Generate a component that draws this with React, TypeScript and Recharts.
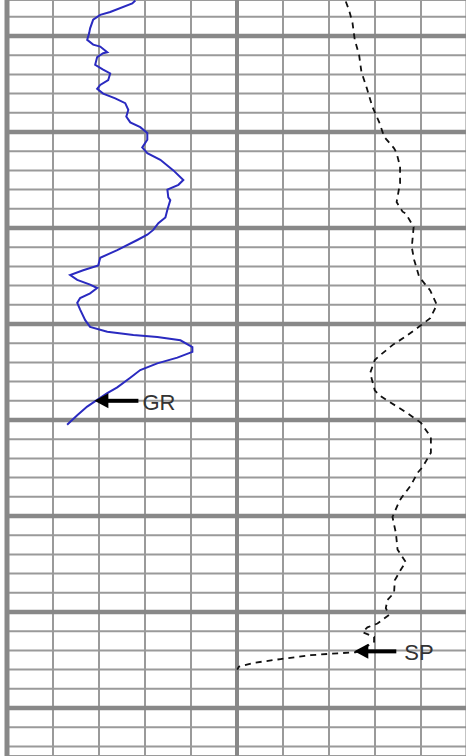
import { LineChart, Line, XAxis, YAxis, CartesianGrid, ReferenceLine, ReferenceDot } from 'recharts';

// depth (ft) vs gamma ray (API), left track
const GR_DEPTH = [
  4996.3, 4996.6, 4997.5, 4997.8, 4998.3, 4999.2, 4999.7, 5000.4, 5000.9, 5001.1, 5001.7, 5001.8,
  5002.2, 5003.0, 5003.5, 5003.9, 5004.6, 5005.1, 5005.5, 5006.0, 5006.5, 5007.0, 5007.7, 5008.4,
  5009.0, 5009.5, 5010.1, 5010.8, 5011.6, 5012.2, 5012.9, 5014.0, 5015.0, 5015.5, 5016.0, 5016.8,
  5017.1, 5018.1, 5018.9, 5019.5, 5020.2, 5020.7, 5021.25, 5022.3, 5023.1, 5023.9, 5024.4, 5024.9,
  5025.4, 5025.9, 5026.25, 5026.8, 5027.3, 5027.8, 5028.5, 5029.6, 5030.3, 5030.8, 5031.15, 5031.35,
  5031.7, 5032.4, 5032.9, 5033.5, 5034.1, 5034.8, 5035.6, 5036.6, 5037.2, 5037.9, 5038.6, 5039.5,
  5040.5,
];
const GR_VALUES = [
  83.7, 81.7, 67.3, 60.8, 56.2, 54.2, 53.6, 52.3, 56.2, 60.8, 65.4, 62.7,
  58.8, 57.5, 62.7, 67.3, 66.0, 60.8, 58.8, 62.7, 70.6, 77.1, 79.1, 77.8,
  80.4, 86.9, 91.5, 91.5, 88.2, 91.5, 100.0, 108.5, 115.0, 111.8, 104.6, 105.2,
  106.5, 104.6, 103.3, 98.7, 95.4, 91.5, 85.0, 71.9, 60.8, 59.5, 49.7, 41.2,
  45.8, 54.2, 58.8, 54.2, 47.7, 45.8, 47.7, 51.0, 54.2, 65.4, 82.4, 98.0,
  113.1, 120.9, 120.9, 111.1, 98.0, 86.9, 80.4, 71.9, 65.4, 58.8, 52.3, 45.8,
  39.2,
];

// depth (ft) vs spontaneous potential (mV), right track
const SP_DEPTH = [
  4996.4, 4997.3, 4998.6, 5000.4, 5002.0, 5003.75, 5005.4, 5007.4, 5008.96, 5010.5, 5011.7, 5012.2,
  5013.6, 5015.3, 5017.3, 5018.3, 5018.5, 5019.9, 5022.0, 5023.3, 5025.1, 5026.5, 5028.0, 5029.4,
  5030.4, 5031.4, 5032.2, 5033.2, 5033.75, 5035.1, 5036.9, 5037.4, 5038.2, 5039.3, 5040.3, 5041.8,
  5043.4, 5044.9, 5045.5, 5046.8, 5048.1, 5048.5, 5050.1, 5051.8, 5053.5, 5054.8, 5055.6, 5056.7,
  5058.0, 5058.75, 5059.6, 5060.3, 5060.8, 5061.2, 5061.6, 5062.1, 5062.6, 5063.1, 5063.75, 5064.2,
  5064.3, 5064.5, 5064.9, 5065.3, 5065.7, 5066.0,
];
const SP_VALUES = [
  -52.7, -51.3, -49.8, -48.8, -46.9, -45.9, -43.6, -41.1, -38.2, -36.0, -31.7, -30.6,
  -29.1, -29.1, -30.6, -28.0, -26.6, -23.2, -24.0, -23.0, -20.8, -16.0, -13.1, -16.0,
  -21.5, -27.3, -32.4, -37.5, -40.1, -42.1, -40.1, -38.2, -33.1, -25.8, -20.0, -15.7,
  -15.7, -19.3, -21.5, -24.4, -28.5, -29.5, -32.4, -30.9, -30.2, -26.6, -28.8, -31.4,
  -31.7, -34.6, -35.3, -33.9, -36.7, -38.9, -43.3, -45.4, -40.4, -40.4, -44.7, -48.4,
  -56.3, -68.0, -81.0, -92.7, -99.2, -99.9,
];

const DEPTH_DOMAIN = [4996.25, 5075];
const DEPTH_MINOR = [
  4998, 5000, 5002, 5004, 5006, 5008, 5010, 5012, 5014, 5016, 5018, 5020, 5022, 5024, 5026, 5028,
  5030, 5032, 5034, 5036, 5038, 5040, 5042, 5044, 5046, 5048, 5050, 5052, 5054, 5056, 5058, 5060,
  5062, 5064, 5066, 5068, 5070, 5072, 5074,
];
const DEPTH_MAJOR = [5000, 5010, 5020, 5030, 5040, 5050, 5060, 5070];
const GR_TICKS = [0, 30, 60, 90, 120, 150, 180, 210, 240, 270, 300];

const grData = GR_DEPTH.map((depth, i) => ({ depth, gr: GR_VALUES[i] }));
const spData = SP_DEPTH.map((depth, i) => ({ depth, sp: SP_VALUES[i] }));

const GRID = '#9a9a9a';
const GRID_DARK = '#888888';

function arrowLabel(text: string, shaft: number, gap: number) {
  return (props: any) => {
    const { cx, cy } = props;
    return (
      <g>
        <polygon points={`${cx},${cy} ${cx + 14},${cy - 7.5} ${cx + 14},${cy + 7.5}`} fill="#000" />
        <rect x={cx + 12} y={cy - 2} width={shaft} height={4} fill="#000" />
        <text
          x={cx + gap}
          y={cy + 9}
          fontFamily="Liberation Sans, Arial, sans-serif"
          fontSize={22}
          fill="#333"
        >
          {text}
        </text>
      </g>
    );
  };
}

export default function App() {
  return (
    <div style={{ position: 'absolute', left: 0, top: 0, width: 466, height: 756, overflow: 'hidden', background: '#fff' }}>
      <LineChart
        width={468}
        height={756}
        layout="vertical"
        margin={{ top: 0, right: 1, bottom: 0, left: 7 }}
      >
        <XAxis xAxisId="gr" type="number" domain={[0, 300]} ticks={GR_TICKS} interval={0} hide />
        <XAxis xAxisId="sp" type="number" domain={[-200, 0]} hide />
        <YAxis
          dataKey="depth"
          type="number"
          domain={DEPTH_DOMAIN}
          ticks={DEPTH_MINOR}
          interval={0}
          allowDataOverflow
          hide
        />
        <CartesianGrid xAxisId="gr" stroke={GRID} strokeWidth={2} fill="#fff" />
        {DEPTH_MAJOR.map((d) => (
          <ReferenceLine key={d} xAxisId="gr" y={d} stroke={GRID_DARK} strokeWidth={4.5} />
        ))}
        <ReferenceLine xAxisId="gr" x={0} stroke={GRID_DARK} strokeWidth={5} />
        <ReferenceLine xAxisId="gr" x={150} stroke={GRID_DARK} strokeWidth={4} />
        <ReferenceLine xAxisId="gr" x={300} stroke={GRID_DARK} strokeWidth={3} />
        <Line
          xAxisId="gr"
          data={grData}
          dataKey="gr"
          type="linear"
          stroke="#2a2ac0"
          strokeWidth={2}
          dot={false}
          isAnimationActive={false}
        />
        <Line
          xAxisId="sp"
          data={spData}
          dataKey="sp"
          type="linear"
          stroke="#111"
          strokeWidth={1.8}
          strokeDasharray="6 5"
          dot={false}
          isAnimationActive={false}
        />
        <ReferenceDot xAxisId="gr" x={57} y={5038} r={0} shape={arrowLabel('GR', 32, 48)} />
        <ReferenceDot xAxisId="sp" x={-49} y={5064.1} r={0} shape={arrowLabel('SP', 30, 50)} />
      </LineChart>
    </div>
  );
}
